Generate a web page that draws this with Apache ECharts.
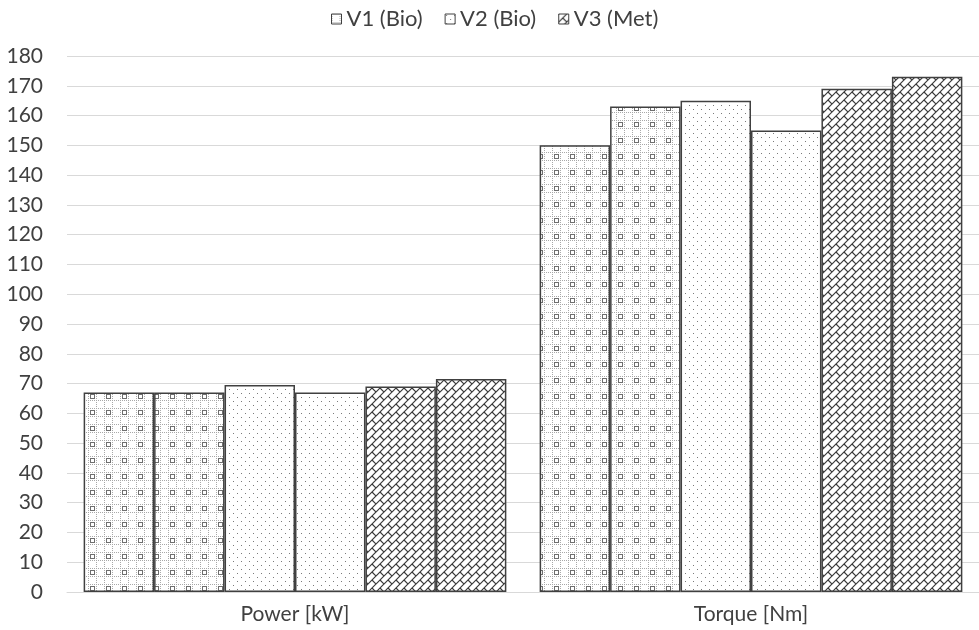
<!DOCTYPE html>
<html><head><meta charset="utf-8">
<script src="https://cdn.jsdelivr.net/npm/echarts@6/dist/echarts.min.js"></script>
<style>html,body{margin:0;padding:0;background:#fff}#c{width:979px;height:630px}</style>
</head><body><div id="c"></div>
<script>
// ---- data ----
const categories = ['Power [kW]', 'Torque [Nm]'];
const legendNames = ['V1 (Bio)', 'V2 (Bio)', 'V3 (Met)'];
const barSeriesNames = ['V1 (Bio)', 'V1 (Bio)', 'V2 (Bio)', 'V2 (Bio)', 'V3 (Met)', 'V3 (Met)'];
const powerValues = [67, 67, 69.5, 67, 69, 71.5];
const torqueValues = [150, 163, 165, 155, 169, 173];
const yMin = 0, yMax = 180, yStep = 10;

// ---- patterns ----
function tile(w, h, draw) {
  const c = document.createElement('canvas');
  c.width = w; c.height = h;
  const g = c.getContext('2d');
  g.fillStyle = '#ffffff'; g.fillRect(0, 0, w, h);
  draw(g);
  return c;
}
const gridTile = tile(16, 16, g => {
  g.fillStyle = '#a9a9a9';
  for (let i = 0; i < 16; i += 2) {
    g.fillRect(i, 0, 1, 1); g.fillRect(i, 8, 1, 1);
    g.fillRect(0, i, 1, 1); g.fillRect(8, i, 1, 1);
  }
  g.strokeStyle = '#6e6e6e'; g.lineWidth = 1;
  g.strokeRect(10.5, 10.5, 4, 4);
});
const dotTile = tile(8, 8, g => {
  g.fillStyle = '#7a7a7a';
  g.fillRect(1, 1, 1, 1); g.fillRect(5, 5, 1, 1);
});
const weaveTile = tile(8, 8, g => {
  g.strokeStyle = '#3a3a3a'; g.lineWidth = 1.2;
  g.beginPath();
  g.moveTo(-1, 9); g.lineTo(9, -1);
  g.moveTo(-1, 1); g.lineTo(1, -1);
  g.moveTo(7, 9); g.lineTo(9, 7);
  g.moveTo(4, 4); g.lineTo(8.5, 8.5);
  g.stroke();
});
const seriesPatterns = [gridTile, gridTile, dotTile, dotTile, weaveTile, weaveTile];

const FONT = 'Lato';
const chart = echarts.init(document.getElementById('c'), null, { renderer: 'canvas' });
chart.setOption({
  animation: false,
  backgroundColor: '#ffffff',
  legend: {
    data: legendNames,
    top: 3,
    left: 326,
    icon: 'rect',
    itemWidth: 10, itemHeight: 10, itemGap: 22,
    itemStyle: { borderWidth: 1, borderColor: '#404040' },
    textStyle: { fontFamily: FONT, fontSize: 22, color: '#404040' }
  },
  grid: { left: 67, right: 0, top: 56, bottom: 38, containLabel: false },
  xAxis: {
    type: 'category',
    data: categories,
    axisLine: { lineStyle: { color: '#d9d9d9', width: 1 } },
    axisTick: { show: false },
    axisLabel: { fontFamily: FONT, fontSize: 21, color: '#404040', margin: 12 }
  },
  yAxis: {
    type: 'value',
    min: yMin, max: yMax, interval: yStep,
    axisLine: { show: false },
    axisTick: { show: false },
    splitLine: { lineStyle: { color: '#d9d9d9', width: 1 } },
    axisLabel: { fontFamily: FONT, fontSize: 21, color: '#404040', margin: 24 }
  },
  series: barSeriesNames.map((name, i) => ({
    name: name,
    type: 'bar',
    barGap: 0,
    barCategoryGap: '7.3%',
    data: [powerValues[i], torqueValues[i]],
    itemStyle: {
      color: { image: seriesPatterns[i], repeat: 'repeat' },
      borderColor: '#404040',
      borderWidth: 1.5
    },
    emphasis: { disabled: true }
  }))
});
</script>
</body></html>
